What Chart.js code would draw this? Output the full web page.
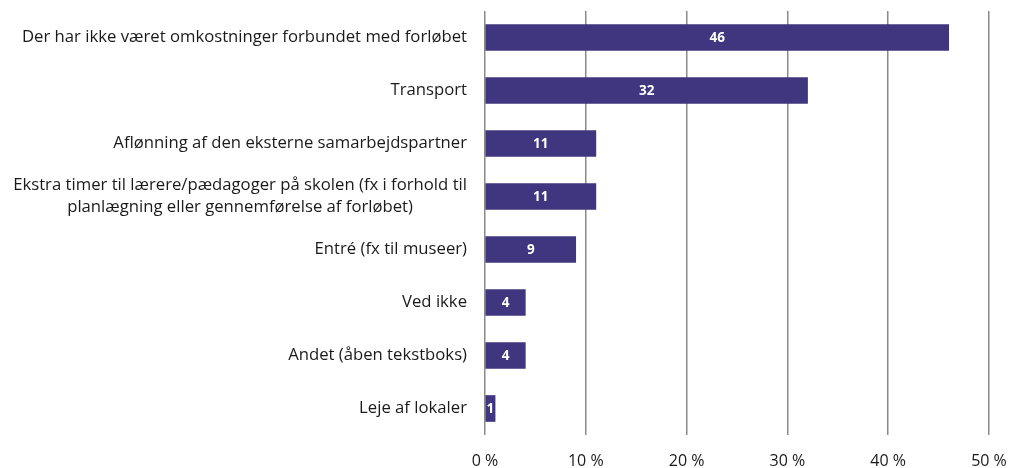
<!DOCTYPE html>
<html>
<head>
<meta charset="utf-8">
<script src="https://cdn.jsdelivr.net/npm/chart.js@4"></script>
<style>
  html, body { margin: 0; padding: 0; background: #fff; }
  #wrap { width: 1010px; height: 468px; }
</style>
</head>
<body>
<div id="wrap"><canvas id="costChart"></canvas></div>
<script>
const categories = [
    'Der har ikke været omkostninger forbundet med forløbet',
    'Transport',
    'Aflønning af den eksterne samarbejdspartner',
    ['Ekstra timer til lærere/pædagoger på skolen (fx i forhold til', 'planlægning eller gennemførelse af forløbet)'],
    'Entré (fx til museer)',
    'Ved ikke',
    'Andet (åben tekstboks)',
    'Leje af lokaler'
];
const values = [46, 32, 11, 11, 9, 4, 4, 1];
const xTicks = [0, 10, 20, 30, 40, 50];

const FONT = '"Open Sans", "Noto Sans", sans-serif';
const barColor = '#40357f';

// draws category labels (multi-line ones centred like the original)
const categoryLabels = {
    id: 'categoryLabels',
    afterDraw(chart) {
        const ctx = chart.ctx;
        const yScale = chart.scales.y;
        const right = chart.chartArea.left - 18;
        ctx.save();
        ctx.font = '16.7px ' + FONT;
        ctx.fillStyle = '#1a1a1a';
        ctx.textBaseline = 'middle';
        categories.forEach(function (label, i) {
            const y = yScale.getPixelForValue(i);
            if (Array.isArray(label)) {
                const lineH = 22;
                const maxW = Math.max.apply(null, label.map(l => ctx.measureText(l).width));
                const cx = right - maxW / 2;
                ctx.textAlign = 'center';
                label.forEach(function (line, j) {
                    ctx.fillText(line, cx, y + (j - (label.length - 1) / 2) * lineH);
                });
            } else {
                ctx.textAlign = 'right';
                ctx.fillText(label, right, y);
            }
        });
        ctx.restore();
    }
};

// value labels inside the bars
const valueLabels = {
    id: 'valueLabels',
    afterDatasetsDraw(chart) {
        const ctx = chart.ctx;
        const meta = chart.getDatasetMeta(0);
        ctx.save();
        ctx.font = 'bold 13.5px ' + FONT;
        ctx.fillStyle = '#ffffff';
        ctx.textAlign = 'center';
        ctx.textBaseline = 'middle';
        meta.data.forEach(function (bar, i) {
            const cx = (bar.x + bar.base) / 2;
            ctx.fillText(String(values[i]), cx, bar.y + 1);
        });
        ctx.restore();
    }
};

const costChart = new Chart(document.getElementById('costChart').getContext('2d'), {
    type: 'bar',
    data: {
        labels: categories,
        datasets: [{
            data: values,
            backgroundColor: barColor,
            borderWidth: 0,
            barThickness: 26
        }]
    },
    options: {
        indexAxis: 'y',
        responsive: true,
        maintainAspectRatio: false,
        animation: false,
        layout: { padding: { top: 11, right: 21, bottom: 0, left: 0 } },
        plugins: {
            legend: { display: false },
            tooltip: { enabled: false }
        },
        scales: {
            x: {
                min: 0,
                max: 50,
                afterBuildTicks(scale) {
                    scale.ticks = xTicks.map(v => ({ value: v }));
                },
                afterFit(scale) {
                    scale.paddingRight = 0;
                    scale.paddingLeft = 0;
                    scale.height = 33;
                },
                border: { display: false },
                grid: { color: '#8a8a8a', lineWidth: 1.5, drawTicks: false },
                ticks: {
                    padding: 17,
                    color: '#1a1a1a',
                    font: { family: FONT, size: 16 },
                    callback: v => v + ' %'
                }
            },
            y: {
                border: { display: false },
                grid: { display: false },
                ticks: { display: false },
                afterFit(scale) { scale.width = 485; }
            }
        }
    },
    plugins: [categoryLabels, valueLabels]
});
</script>
</body>
</html>
